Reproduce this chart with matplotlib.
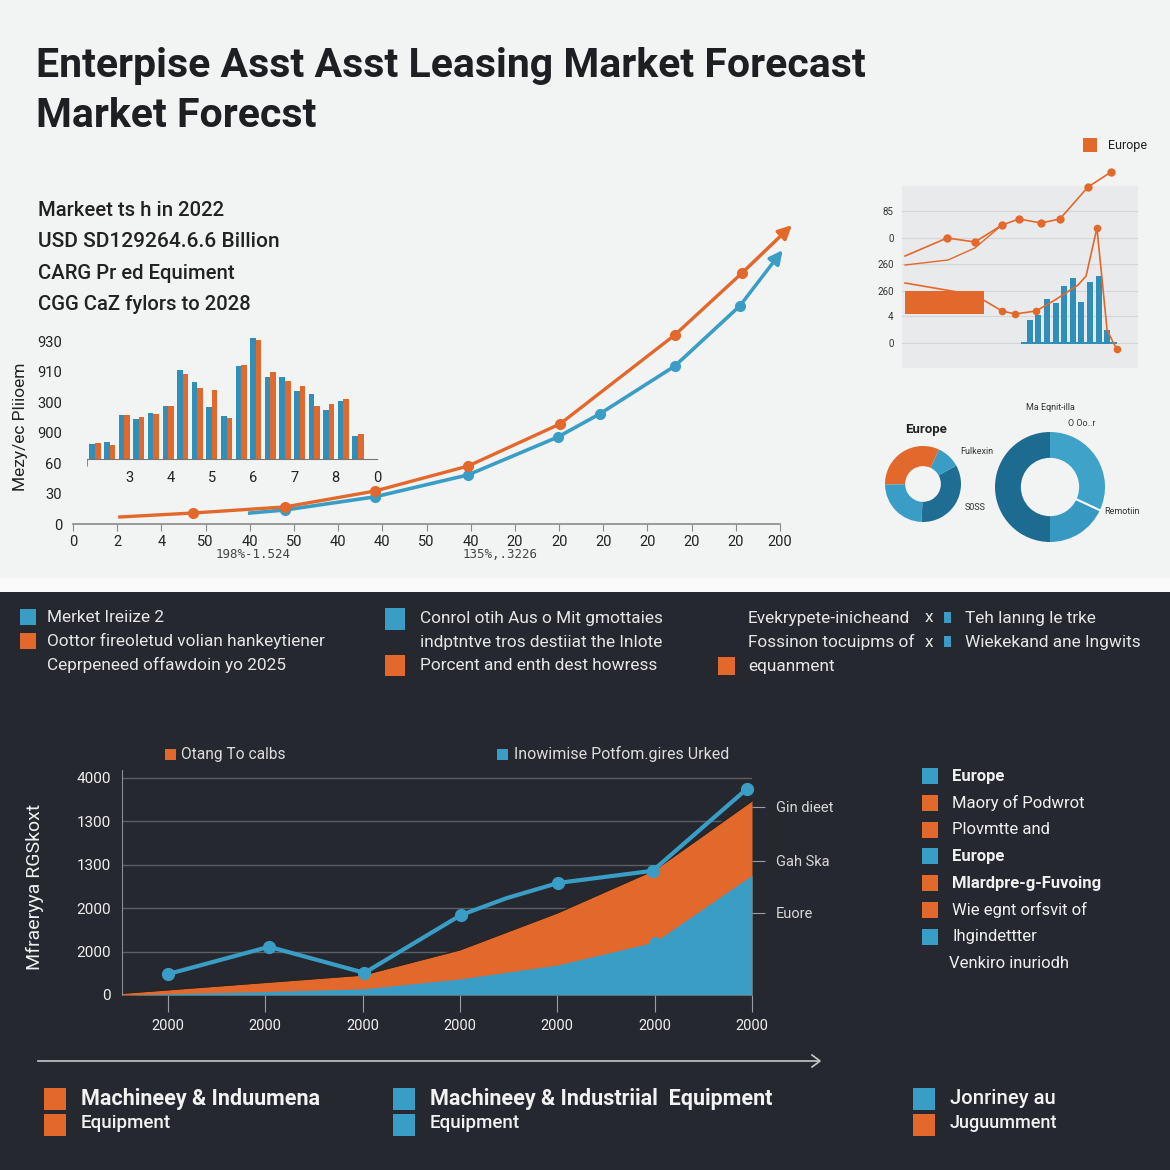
import matplotlib
matplotlib.use("Agg")
import matplotlib.pyplot as plt
from matplotlib.patches import Rectangle
import numpy as np

plt.rcParams['font.family'] = ['Roboto', 'DejaVu Sans']

W = 1170
ORANGE = "#e2682b"
BLUE = "#3a9dc6"
TEAL = "#2f8fb8"
DARK_BLUE = "#1f6d92"
BG = "#f2f3f3"
DARK_BG = "#25282e"
INK = "#1e1f22"

# ---------------- data ----------------
title_lines = ["Enterpise Asst Asst Leasing Market Forecast", "Market Forecst"]
summary_lines = ["Markeet ts h in 2022", "USD SD129264.6.6 Billion",
                 "CARG Pr ed Equiment", "CGG CaZ fylors to 2028"]

main_xlabels = ["0", "2", "4", "50", "40", "50", "40", "40", "50",
                "40", "20", "20", "20", "20", "20", "20", "200"]
main_ylabels = ["0", "30", "60", "900", "300", "910", "930"]
orange_x = [1.06, 2.71, 4.80, 6.83, 8.94, 11.02, 13.62, 15.14, 16.27]
orange_y = [0.23, 0.36, 0.56, 1.08, 1.90, 3.28, 6.20, 8.23, 9.80]
blue_x = [4.0, 4.80, 6.83, 8.94, 10.97, 11.92, 13.62, 15.09, 16.06]
blue_y = [0.36, 0.46, 0.89, 1.61, 2.85, 3.61, 5.18, 7.15, 8.98]
range_labels = ["198%-1.524", "135%,.3226"]

inset_blue = [15, 17, 44, 40, 46, 53, 89, 77, 52, 43, 93, 121, 82, 82, 68, 65, 49, 58, 23]
inset_orange = [16, 14, 44, 42, 45, 53, 85, 71, 69, 41, 94, 119, 87, 78, 73, 53, 55, 60, 25]
inset_xlabels = ["3", "4", "5", "6", "7", "8", "0"]

eu_line1_x = [1.3, 19.1, 30.9, 42.4, 49.6, 58.9, 66.9, 78.8, 88.6]
eu_line1_y = [87, 105, 101, 118, 124, 120, 124, 156, 171]
eu_line2_x = [1.3, 19.5, 30.9, 42.4]
eu_line2_y = [78, 83, 95, 118]
eu_line3_x = [1.3, 30.9, 42.4, 47.9, 56.8, 64.8, 74.6, 78.0, 82.6, 86.9, 89.4, 91.1]
eu_line3_y = [60, 48, 32, 29, 32, 43, 58, 67, 115, 13, 1, -6]
eu_block = (1.3, 33.4, 29, 23)  # x, width, bottom, height
eu_bar_x = [54.2, 57.8, 61.5, 65.1, 68.7, 72.4, 76.0, 79.6, 83.3, 86.9]
eu_bar_h = [23, 28, 44, 40, 57, 65, 41, 61, 67, 13]
eu_yticks = [0, 27, 52, 79, 105, 132]
eu_ylabels = ["0", "4", "260", "260", "0", "85"]

small_donut = [121, 36, 116, 87]
big_donut = [115, 65, 180]

notes_col1 = ["Merket Ireiize 2", "Oottor fireoletud volian hankeytiener",
              "Ceprpeneed offawdoin yo 2025"]
notes_col2 = ["Conrol otih Aus o Mit gmottaies", "indptntve tros destiiat the Inlote",
              "Porcent and enth dest howress"]
notes_col3 = ["Evekrypete-inicheand", "Fossinon tocuipms of", "equanment"]
notes_col4 = ["Teh lanıng le trke", "Wiekekand ane Ingwits"]

area_x = [-0.47, 0, 1, 2, 3, 4, 5, 6]
area_orange = [0.04, 0.12, 0.29, 0.46, 1.04, 1.89, 2.88, 4.47]
area_blue = [0.0, 0.03, 0.08, 0.14, 0.37, 0.69, 1.22, 2.76]
trend_x = [0, 1.04, 2.02, 3.01, 3.48, 4.01, 4.98, 5.95]
trend_y = [0.48, 1.11, 0.51, 1.84, 2.23, 2.58, 2.86, 4.75]
area_xlabels = ["2000"] * 7
area_ylabels = ["0", "2000", "2000", "1300", "1300", "4000"]
side_ticks = [1.89, 3.09, 4.33]
side_tick_labels = ["Euore", "Gah Ska", "Gin dieet"]
chart_legend = ["Otang To calbs", "Inowimise Potfom.gires Urked"]

side_labels = ["Europe", "Maory of Podwrot", "Plovmtte and", "Europe",
               "Mlardpre-g-Fuvoing", "Wie egnt orfsvit of", "Ihgindettter", "Venkiro inuriodh"]
side_colors = [BLUE, ORANGE, ORANGE, BLUE, ORANGE, ORANGE, BLUE, None]
side_bold = [True, False, False, True, True, False, False, False]

bottom_top = ["Machineey & Induumena", "Machineey & Industriial  Equipment", "Jonriney au"]
bottom_sub = ["Equipment", "Equipment", "Juguumment"]
bottom_colors = [(ORANGE, ORANGE), (BLUE, BLUE), (BLUE, ORANGE)]


# ---------------- helpers (pixel layout) ----------------
def fx(px):
    return px / W


def fy(py):
    return 1 - py / W


def box(left, top, right, bottom):
    return [fx(left), fy(bottom), (right - left) / W, (bottom - top) / W]


def square(x, y, w, h, color):
    fig.add_artist(Rectangle((fx(x), fy(y + h)), w / W, h / W,
                             transform=fig.transFigure, color=color, lw=0))


def label(x, y, s, **kw):
    kw.setdefault('va', 'center')
    fig.text(fx(x), fy(y), s, **kw)


fig = plt.figure(figsize=(11.7, 11.7), dpi=100)
fig.patch.set_facecolor(BG)
fig.add_artist(Rectangle((0, fy(592)), 1, 592 / W - 578 / W, transform=fig.transFigure,
                         color="#fafafa", lw=0, zorder=-10))
fig.add_artist(Rectangle((0, 0), 1, fy(592), transform=fig.transFigure,
                         color=DARK_BG, lw=0, zorder=-10))

# ---------------- title and summary ----------------
label(36, 66, title_lines[0], fontsize=29.5, fontweight='bold', color=INK)
label(36, 116, title_lines[1], fontsize=29.5, fontweight='bold', color=INK)
for i, s in enumerate(summary_lines):
    label(38, 210 + i * 31.5, s, fontsize=15 if i == 1 else 14.6,
          fontweight='medium', color="#222")

# ---------------- main growth chart ----------------
ax = fig.add_axes(box(73, 205, 780, 524))
ax.set_facecolor('none')
ax.set_xlim(0, 16)
ax.set_ylim(0, 10.46)
ax.plot(blue_x[:-1], blue_y[:-1], color=BLUE, lw=2.6, marker='o', ms=7,
        markevery=list(range(1, len(blue_x) - 1)), zorder=3, clip_on=False)
ax.plot(orange_x[:-1], orange_y[:-1], color=ORANGE, lw=2.4, marker='o', ms=7,
        markevery=list(range(1, len(orange_x) - 1)), zorder=4, clip_on=False)
for xs, ys, c in [(blue_x, blue_y, BLUE), (orange_x, orange_y, ORANGE)]:
    ax.annotate('', xy=(xs[-1], ys[-1]), xytext=(xs[-2], ys[-2]),
                arrowprops=dict(arrowstyle='-|>', color=c, lw=2.5,
                                mutation_scale=20, shrinkA=0, shrinkB=0),
                annotation_clip=False, zorder=4)
ax.set_xticks(range(len(main_xlabels)))
ax.set_xticklabels(main_xlabels)
ax.set_yticks(range(len(main_ylabels)))
ax.set_yticklabels(main_ylabels)
for s in ['top', 'right', 'left']:
    ax.spines[s].set_visible(False)
ax.spines['bottom'].set_color('#8a8a8a')
ax.spines['bottom'].set_linewidth(1.2)
ax.tick_params(axis='x', length=5, color='#8a8a8a', labelsize=10.5, labelcolor='#222', pad=3)
ax.tick_params(axis='y', length=0, labelsize=10.5, labelcolor='#222', pad=8)
label(20, 427, "Mezy/ec Pliioem", fontsize=12.5, rotation=90, ha='center', color='#222')
label(253, 554, range_labels[0], fontsize=9, ha='center', color='#444', family='DejaVu Sans Mono')
label(500, 554, range_labels[1], fontsize=9, ha='center', color='#444', family='DejaVu Sans Mono')

# ---------------- inset bar chart ----------------
axb = fig.add_axes(box(87, 334, 377, 459))
axb.set_facecolor('none')
idx = np.arange(len(inset_blue))
axb.bar(idx - 0.19, inset_blue, width=0.38, color=TEAL, lw=0)
axb.bar(idx + 0.19, inset_orange, width=0.38, color=ORANGE, lw=0)
axb.set_xlim(-0.55, 19.3)
axb.set_ylim(0, 125)
axb.set_xticks(np.linspace(2.33, 19.3, len(inset_xlabels)))
axb.set_xticklabels(inset_xlabels)
axb.set_xticks([-0.55, 19.3], minor=True)
axb.tick_params(axis='x', which='major', length=0, labelsize=10.5, labelcolor='#222', pad=9)
axb.tick_params(axis='x', which='minor', length=5, color='#777')
axb.set_yticks([])
for s in ['top', 'right', 'left']:
    axb.spines[s].set_visible(False)
axb.spines['bottom'].set_color('#777')

# ---------------- top right small chart ----------------
axe = fig.add_axes(box(902, 186, 1138, 368))
axe.set_facecolor('#e9eaeb')
axe.set_xlim(0, 100)
axe.set_ylim(-25, 157)
axe.set_yticks(eu_yticks)
axe.set_yticklabels(eu_ylabels)
axe.set_xticks([])
axe.grid(axis='y', color='#d4d5d6', lw=0.8)
axe.set_axisbelow(True)
for s in axe.spines.values():
    s.set_visible(False)
axe.tick_params(axis='y', length=0, labelsize=7, labelcolor='#333', pad=6)
axe.bar(eu_bar_x, eu_bar_h, width=2.5, color=TEAL, lw=0, zorder=2)
axe.bar(eu_bar_x[0] - 3.8, 2, width=40.7, bottom=-1, align='edge', color=TEAL, lw=0, zorder=2)
axe.bar(eu_block[0], eu_block[3], width=eu_block[1], bottom=eu_block[2],
        align='edge', color=ORANGE, lw=0, zorder=2)
axe.plot(eu_line2_x, eu_line2_y, color=ORANGE, lw=1, zorder=3)
axe.plot(eu_line1_x, eu_line1_y, color=ORANGE, lw=1.2, marker='o', ms=5,
         markevery=list(range(1, len(eu_line1_x))), zorder=3, clip_on=False)
axe.plot(eu_line3_x, eu_line3_y, color=ORANGE, lw=1.2, marker='o', ms=4.5,
         markevery=[2, 3, 4, 8, 11], zorder=3, clip_on=False)
square(1083, 138, 14, 14, ORANGE)
label(1108, 145, "Europe", fontsize=9, color='#222')

# ---------------- donuts ----------------
axd = fig.add_axes(box(885, 446, 961, 522))
axd.pie(small_donut, colors=[DARK_BLUE, BLUE, ORANGE, BLUE], startangle=268,
        counterclock=True, radius=1, wedgeprops=dict(width=0.53, lw=0))
axd.set_xlim(-1, 1)
axd.set_ylim(-1, 1)
label(926, 430, "Europe", fontsize=9.5, fontweight='bold', ha='center', color='#222')
label(960, 451, "Fulkexin", fontsize=6.5, color='#333')
label(965, 507, "S0SS", fontsize=6.5, color='#333')

axD = fig.add_axes(box(995, 432, 1105, 542))
axD.pie(big_donut, colors=["#3fa2c9", "#3798c2", "#1d6b90"], startangle=90,
        counterclock=False, radius=1, wedgeprops=dict(width=0.47, lw=0))
cut = np.deg2rad(90 - big_donut[0] / sum(big_donut) * 360)
axD.plot([0.53 * np.cos(cut), np.cos(cut)], [0.53 * np.sin(cut), np.sin(cut)],
         color='white', lw=1.5)
axD.set_xlim(-1, 1)
axD.set_ylim(-1, 1)
label(1050, 407, "Ma Eqnit-illa", fontsize=6.5, ha='center', color='#333')
label(1082, 424, "O Oo..r", fontsize=6.5, ha='center', color='#333')
label(1104, 512, "Remotiin", fontsize=6.5, color='#333')

# ---------------- dark section: notes ----------------
NOTE = dict(fontsize=12.4, color='#e6e6e6')
square(20, 609, 16, 16, BLUE)
square(20, 633, 16, 16, ORANGE)
for i, s in enumerate(notes_col1):
    label(47, 617 + i * 24, s, **NOTE)
square(385, 608, 20, 22, BLUE)
square(385, 655, 20, 21, ORANGE)
for i, s in enumerate(notes_col2):
    label(420, 618 + i * 24, s, **NOTE)
for i, s in enumerate(notes_col3):
    label(748, 618 + i * 24, s, **NOTE)
square(718, 657, 17, 18, ORANGE)
for i, s in enumerate(notes_col4):
    label(925, 618 + i * 24, "x", **NOTE)
    square(944, 612 + i * 24, 7, 11, BLUE)
    label(965, 618 + i * 24, s, **NOTE)

# ---------------- dark section: area chart ----------------
axa = fig.add_axes(box(122, 770, 752, 995))
axa.set_facecolor('none')
axa.set_xlim(-0.47, 6.0)
axa.set_ylim(0, 5.18)
axa.fill_between(area_x, 0, area_orange, color=ORANGE, lw=0, zorder=2)
axa.plot(area_x, area_orange, color='#2a2522', lw=1, zorder=2)
axa.fill_between(area_x, 0, area_blue, color=BLUE, lw=0, zorder=3)
axa.plot(trend_x, trend_y, color=BLUE, lw=3, marker='o', ms=8.5,
         markevery=[0, 1, 2, 3, 5, 6, 7], zorder=4, clip_on=False)
axa.plot(area_x[-2], area_blue[-2], 'o', color=BLUE, ms=7, zorder=4)
axa.set_xticks(range(len(area_xlabels)))
axa.set_xticklabels(area_xlabels)
axa.set_yticks(range(len(area_ylabels)))
axa.set_yticklabels(area_ylabels)
axa.grid(axis='y', color='#5b5f66', lw=1)
axa.set_axisbelow(True)
for s in ['top', 'right', 'bottom']:
    axa.spines[s].set_visible(False)
axa.spines['left'].set_color('#8a8e94')
axa.tick_params(axis='x', length=12, color='#9a9ea4', labelsize=10.5, labelcolor='#f0f0f0', pad=5)
axa.tick_params(axis='y', length=0, labelsize=11, labelcolor='#f0f0f0', pad=8)

axr = axa.twinx()
axr.set_ylim(axa.get_ylim())
axr.set_yticks(side_ticks)
axr.set_yticklabels(side_tick_labels)
for s in axr.spines.values():
    s.set_visible(False)
axr.tick_params(axis='y', length=9, color='#9a9ea4', labelsize=10.5, labelcolor='#d8d8d8', pad=8)

square(165, 749, 11, 11, ORANGE)
label(181, 754, chart_legend[0], fontsize=11.2, color='#dcdcdc')
square(497, 749, 11, 11, BLUE)
label(514, 754, chart_legend[1], fontsize=11.5, color='#dcdcdc')
label(35, 887, "Mfraeryya RGSkoxt", fontsize=14, rotation=90, ha='center', color='#f0f0f0')

fig.add_artist(plt.Line2D([fx(38), fx(818)], [fy(1061), fy(1061)], transform=fig.transFigure,
                          color='#c8c8c8', lw=1.2))
fig.add_artist(plt.Line2D([fx(812), fx(820), fx(812)], [fy(1055), fy(1061), fy(1067)],
                          transform=fig.transFigure, color='#c8c8c8', lw=1.2))

# ---------------- right legend ----------------
for i, (s, c, b) in enumerate(zip(side_labels, side_colors, side_bold)):
    y = 776 + i * 26.8
    if c is not None:
        square(922, y - 8, 16, 16, c)
        label(952, y, s, fontsize=12, color='#f0f0f0', fontweight='bold' if b else 'normal')
    else:
        label(949, y, s, fontsize=12, color='#f0f0f0')

# ---------------- bottom legend ----------------
for x, top, sub, (c1, c2) in zip([44, 393, 913], bottom_top, bottom_sub, bottom_colors):
    square(x, 1088, 22, 22, c1)
    square(x, 1114, 22, 22, c2)
    weight = 'bold' if x < 900 else 'medium'
    label(x + 37, 1099, top, fontsize=15.5 if x < 900 else 14.6, fontweight=weight, color='#f2f2f2')
    label(x + 37, 1123, sub, fontsize=13.5 if x < 900 else 13, fontweight='medium', color='#f2f2f2')

fig.savefig("out.png", dpi=100, facecolor=fig.get_facecolor())
